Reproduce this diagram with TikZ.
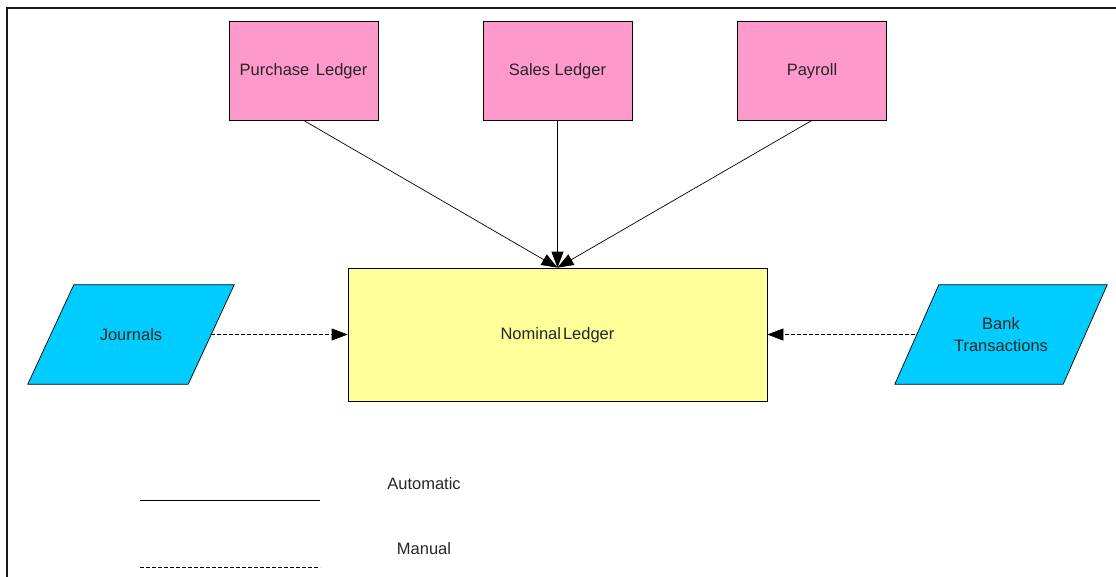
\documentclass[tikz,border=0pt]{standalone}
\usepackage{fontspec}
\setmainfont{Liberation Sans}
\usetikzlibrary{arrows.meta,backgrounds}

\definecolor{ledgerpink}{HTML}{FF99CC}
\definecolor{ledgeryellow}{HTML}{FFFF99}
\definecolor{inputcyan}{HTML}{00CCFF}

\tikzset{
  every node/.style={font=\fontsize{16.5}{22}\selectfont, text=black!85},
  oneline/.style={text height=12pt, text depth=1.6pt},
  subledger/.style={oneline, draw=black, line width=0.7pt, fill=ledgerpink,
    minimum width=149pt, minimum height=99pt, inner sep=0pt},
  mainledger/.style={oneline, draw=black, line width=0.7pt, fill=ledgeryellow,
    minimum width=419pt, minimum height=133pt, inner sep=0pt},
  inputbox/.style={minimum height=99pt, inner sep=0pt, align=center},
  parafill/.style={draw=black, line width=0.7pt, fill=inputcyan},
  tip/.style={-{Triangle[length=16pt,width=12pt]}},
  auto link/.style={tip, line width=0.7pt},
  manual link/.style={tip, line width=0.7pt, dash pattern=on 4pt off 2pt},
  legendtext/.style={anchor=center}
}

\begin{document}
\begin{tikzpicture}[x=1pt,y=-1pt]
  \useasboundingbox (0,0) rectangle (1116,576);
  \clip (0,0) rectangle (1116,576);

  % outer frame
  \draw[line width=1.8pt, black!90] (7,8) rectangle (1140,600);

  % sub-ledgers
  \node[subledger] (pl) at (303.5,70.5) {Purchase\hspace{0.4em}Ledger};
  \node[subledger] (sl) at (557.5,70.5) {Sales Ledger};
  \node[subledger] (pr) at (812,70.5) {Payroll};

  % nominal ledger
  \node[mainledger] (nl) at (557.5,334.5) {Nominal\hspace{0.12em}Ledger};

  % manual inputs (parallelograms drawn behind their text)
  \node[inputbox, minimum width=160pt] (jr) at (131,334.5) {Journals};
  \node[inputbox, minimum width=168pt] (bt) at (1001,334.5) {Bank\\Transactions};
  \begin{scope}[on background layer]
    \fill[white] (0,0) rectangle (1116,576);
    \path[parafill] ([xshift=-23pt]jr.south west) -- ([xshift=-23pt]jr.south east)
      -- ([xshift=23pt]jr.north east) -- ([xshift=23pt]jr.north west) -- cycle;
    \path[parafill] ([xshift=-22pt]bt.south west) -- ([xshift=-22pt]bt.south east)
      -- ([xshift=22pt]bt.north east) -- ([xshift=22pt]bt.north west) -- cycle;
  \end{scope}

  % automatic postings
  \draw[auto link] (pl.south) -- (nl.north);
  \draw[auto link] (sl.south) -- (nl.north);
  \draw[auto link] (pr.south) -- (nl.north);

  % manual postings
  \draw[manual link] (jr.east) -- (nl.west);
  \draw[manual link] ([xshift=-2pt]bt.west) -- (nl.east);

  % legend
  \coordinate (la1) at (140,500);
  \coordinate (la2) at (320,500);
  \coordinate (lm1) at (140,567);
  \coordinate (lm2) at (320,567);
  \draw[line width=0.9pt] (la1) -- (la2);
  \draw[line width=0.7pt, dash pattern=on 4pt off 2pt] (lm1) -- (lm2);
  \node[legendtext] (lat) at (424,484) {Automatic};
  \node[legendtext] (lmt) at (424,549) {Manual};
\end{tikzpicture}
\end{document}
